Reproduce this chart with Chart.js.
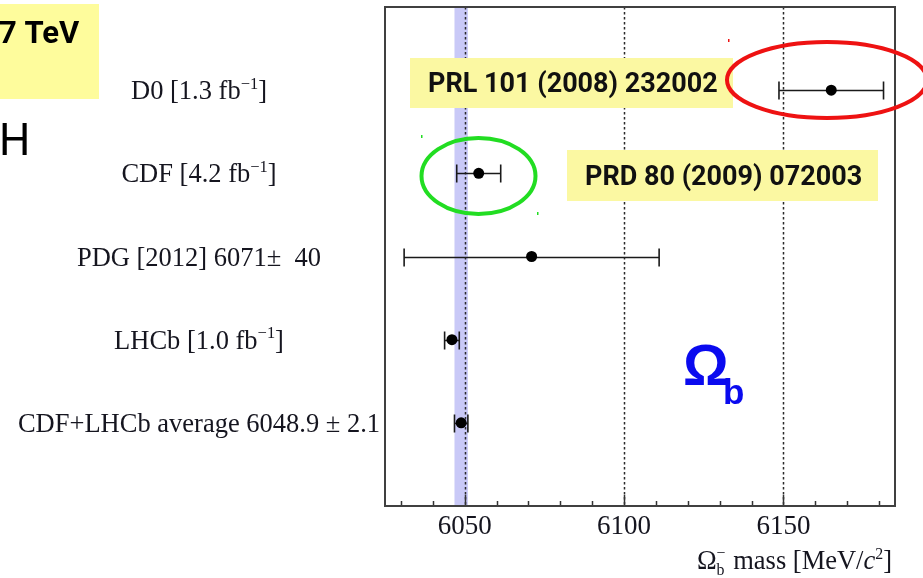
<!DOCTYPE html>
<html>
<head>
<meta charset="utf-8">
<script src="https://cdn.jsdelivr.net/npm/chart.js@4.4.1/dist/chart.umd.min.js"></script>
<style>
  html, body { margin: 0; padding: 0; background: #fff; overflow: hidden; }
  #wrap { width: 923px; height: 578px; }
</style>
</head>
<body>
<div id="wrap"><canvas id="chart" width="923" height="578"></canvas></div>
<script>
// ---- data ----
const experiments = [
  'D0 [1.3 fb^{\u22121}]',
  'CDF [4.2 fb^{\u22121}]',
  'PDG [2012] 6071\u00b1  40',
  'LHCb [1.0 fb^{\u22121}]',
  'CDF+LHCb average 6048.9 \u00b1 2.1'
];
const masses = [6165, 6054.4, 6071, 6046.0, 6048.9];
const errors = [16.4, 6.9, 40, 2.3, 2.1];
const avgMass = 6048.9;
const avgErr = 2.1;
const xTicks = [6050, 6100, 6150];
const xMinor = [6030, 6040, 6060, 6070, 6080, 6090, 6110, 6120, 6130, 6140, 6160, 6170, 6180];
const xMin = 6025, xMax = 6185;
const noteTexts = ['7 TeV', 'H', 'PRL 101 (2008) 232002', 'PRD 80 (2009) 072003'];

const SERIF = '"Liberation Serif", "Times New Roman", serif';
const TXT = '#15151f';

// draw text with ^{..} superscripts, returns width (measure only if dry)
function richText(ctx, str, x, y, size, dry) {
  const parts = str.split(/(\^\{[^}]*\})/).filter(s => s.length);
  let w = 0;
  parts.forEach(p => {
    const sup = p.startsWith('^{');
    const t = sup ? p.slice(2, -1) : p;
    const fs = sup ? size * 0.62 : size;
    ctx.font = fs + 'px ' + SERIF;
    if (!dry) ctx.fillText(t, x + w, sup ? y - size * 0.4 : y);
    w += ctx.measureText(t).width;
  });
  return w;
}

const decorPlugin = {
  id: 'decor',
  beforeDatasetsDraw(chart) {
    const { ctx, chartArea: a, scales: { x, y } } = chart;
    ctx.save();
    // average band
    ctx.fillStyle = '#c9c9f7';
    const b0 = x.getPixelForValue(avgMass - avgErr), b1 = x.getPixelForValue(avgMass + avgErr);
    ctx.fillRect(b0, a.top, b1 - b0, a.bottom - a.top);

    // dotted grid
    ctx.strokeStyle = '#2a2a2a';
    ctx.lineWidth = 1.5;
    ctx.setLineDash([2.5, 2.5]);
    xTicks.forEach(v => {
      const px = Math.round(x.getPixelForValue(v)) + 0.5;
      ctx.beginPath(); ctx.moveTo(px, a.top); ctx.lineTo(px, a.bottom); ctx.stroke();
    });
    ctx.setLineDash([]);

    // ticks
    ctx.strokeStyle = '#333';
    ctx.lineWidth = 1.5;
    xTicks.forEach(v => {
      const px = Math.round(x.getPixelForValue(v)) + 0.5;
      ctx.beginPath(); ctx.moveTo(px, a.bottom); ctx.lineTo(px, a.bottom - 11); ctx.stroke();
    });
    xMinor.forEach(v => {
      const px = Math.round(x.getPixelForValue(v)) + 0.5;
      ctx.beginPath(); ctx.moveTo(px, a.bottom); ctx.lineTo(px, a.bottom - 5); ctx.stroke();
    });

    // frame
    ctx.strokeStyle = '#404040';
    ctx.lineWidth = 2;
    ctx.strokeRect(a.left, a.top, a.right - a.left, a.bottom - a.top);

    // error bars
    ctx.strokeStyle = '#1a1a1a';
    ctx.lineWidth = 1.6;
    masses.forEach((m, i) => {
      const py = Math.round(y.getPixelForValue(i + 1)) + 0.5;
      const l = x.getPixelForValue(m - errors[i]), r = x.getPixelForValue(m + errors[i]);
      ctx.beginPath();
      ctx.moveTo(l, py); ctx.lineTo(r, py);
      ctx.moveTo(l, py - 9); ctx.lineTo(l, py + 9);
      ctx.moveTo(r, py - 9); ctx.lineTo(r, py + 9);
      ctx.stroke();
    });
    ctx.restore();
  },
  afterDraw(chart) {
    const { ctx, scales: { y } } = chart;
    ctx.save();
    ctx.fillStyle = TXT;
    ctx.textBaseline = 'alphabetic';

    // row labels, centred
    experiments.forEach((s, i) => {
      const py = y.getPixelForValue(i + 1) + 9;
      const w = richText(ctx, s, 0, 0, 26.5, true);
      richText(ctx, s, 199 - w / 2, py, 26.5, false);
    });

    // axis title  Ω_b^- mass [MeV/c^2]
    const fs = 26.5;
    const segs = [
      { t: '\u03a9', f: fs + 'px ' + SERIF, dy: 0 },
      { t: 'b', f: (fs * 0.6) + 'px ' + SERIF, dy: 6, stack: '\u2212', gap: 2 },
      { t: ' mass [MeV/', f: fs + 'px ' + SERIF, dy: 0 },
      { t: 'c', f: 'italic ' + fs + 'px ' + SERIF, dy: 0 },
      { t: '2', f: (fs * 0.6) + 'px ' + SERIF, dy: -10 },
      { t: ']', f: fs + 'px ' + SERIF, dy: 0 }
    ];
    let tw = 0;
    segs.forEach(s => { ctx.font = s.f; tw += ctx.measureText(s.t).width + (s.gap || 0); });
    let cx = 892 - tw;
    const by = 569;
    segs.forEach(s => {
      ctx.font = s.f;
      ctx.fillText(s.t, cx, by + s.dy);
      if (s.stack) ctx.fillText(s.stack, cx, by - 11);
      cx += ctx.measureText(s.t).width + (s.gap || 0);
    });

    // yellow notes
    ctx.fillStyle = '#fefc9c';
    ctx.fillRect(0, 4, 99, 95);
    ctx.fillStyle = '#fbf8a2';
    ctx.fillRect(410, 58, 323, 50);
    ctx.fillRect(567, 150, 311, 51);
    ctx.fillStyle = '#000';
    ctx.font = 'bold 31px Roboto';
    ctx.fillText(noteTexts[0], -1, 43);
    ctx.font = '44px Roboto';
    ctx.fillText(noteTexts[1], -1, 155);
    ctx.fillStyle = '#111';
    ctx.font = 'bold 27px Roboto';
    ctx.fillText(noteTexts[2], 428, 92);
    ctx.fillText(noteTexts[3], 585, 185);

    // ellipses
    ctx.lineWidth = 4;
    ctx.strokeStyle = '#ee1212';
    ctx.beginPath(); ctx.ellipse(827, 80, 100, 38, 0, 0, Math.PI * 2); ctx.stroke();
    ctx.strokeStyle = '#22dd22';
    ctx.beginPath(); ctx.ellipse(478.5, 176, 57, 38, 0, 0, Math.PI * 2); ctx.stroke();
    ctx.fillStyle = '#ee1212'; ctx.fillRect(728, 39, 1.5, 3);
    ctx.fillStyle = '#22dd22'; ctx.fillRect(421, 135, 1.5, 3); ctx.fillRect(537, 212, 1.5, 3);

    // Omega_b
    ctx.fillStyle = '#0a0aef';
    ctx.font = 'bold 57px "Liberation Sans"';
    ctx.fillText('\u03a9', 683, 385);
    ctx.font = 'bold 35px "Liberation Sans"';
    ctx.fillText('b', 723, 404);
    ctx.restore();
  }
};

new Chart(document.getElementById('chart'), {
  type: 'scatter',
  data: {
    datasets: [{
      data: masses.map((m, i) => ({ x: m, y: i + 1 })),
      pointRadius: 5.5,
      pointHoverRadius: 5.5,
      backgroundColor: '#000',
      borderWidth: 0
    }]
  },
  options: {
    responsive: false,
    animation: false,
    devicePixelRatio: 1,
    layout: { padding: { left: 385, right: 28, top: 7, bottom: 0 } },
    plugins: { legend: { display: false }, tooltip: { enabled: false } },
    scales: {
      x: {
        type: 'linear', min: xMin, max: xMax,
        afterBuildTicks: (ax) => { ax.ticks = xTicks.map(v => ({ value: v })); },
        afterFit: (ax) => { ax.height = 72; },
        grid: { display: false },
        border: { display: false },
        ticks: {
          color: TXT, font: { family: SERIF, size: 27 }, padding: -3, maxRotation: 0,
          callback: (v) => String(v)
        }
      },
      y: { type: 'linear', min: 0, max: 6, reverse: true, display: false }
    }
  },
  plugins: [decorPlugin]
});
</script>
</body>
</html>
